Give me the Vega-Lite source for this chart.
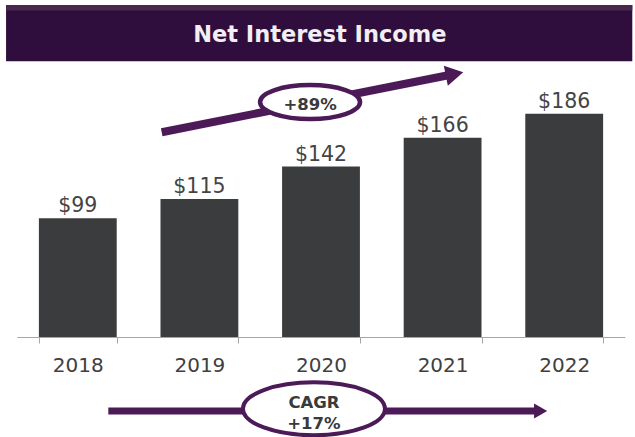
{
  "$schema": "https://vega.github.io/schema/vega-lite/v6.json",
  "width": 608,
  "height": 337,
  "autosize": {"type": "none"},
  "padding": {"left": 17, "top": 0, "right": 10, "bottom": 100},
  "background": "white",
  "config": {
    "view": {"stroke": null},
    "font": "DejaVu Sans",
    "axis": {"grid": false}
  },
  "datasets": {
    "nii": [
      {"year": "2018", "value": 99},
      {"year": "2019", "value": 115},
      {"year": "2020", "value": 142},
      {"year": "2021", "value": 166},
      {"year": "2022", "value": 186}
    ]
  },
  "resolve": {"scale": {"x": "independent"}},
  "layer": [
    {
      "data": {"values": [{}]},
      "mark": {"type": "rect", "color": "#2f0e3e"},
      "encoding": {
        "x": {"datum": -0.09, "type": "quantitative", "scale": {"domain": [0, 5], "nice": false, "zero": false}, "axis": null},
        "x2": {"datum": 5.06},
        "y": {"datum": 229.75, "type": "quantitative", "scale": {"domain": [0, 280.83], "nice": false, "zero": false}, "axis": null},
        "y2": {"datum": 276.6}
      }
    },
    {
      "data": {"values": [{}]},
      "mark": {"type": "rect", "color": "#48284f"},
      "encoding": {
        "x": {"datum": -0.09, "type": "quantitative", "scale": {"domain": [0, 5], "nice": false, "zero": false}, "axis": null},
        "x2": {"datum": 5.06},
        "y": {"datum": 272.0, "type": "quantitative", "scale": {"domain": [0, 280.83], "nice": false, "zero": false}, "axis": null},
        "y2": {"datum": 276.6}
      }
    },
    {
      "data": {"values": [{"title": "Net Interest Income"}]},
      "mark": {"type": "text", "color": "#f2eef2", "fontSize": 22.5, "fontWeight": "bold", "align": "center", "baseline": "alphabetic"},
      "encoding": {
        "text": {"field": "title"},
        "x": {"datum": 2.49, "type": "quantitative", "scale": {"domain": [0, 5], "nice": false, "zero": false}, "axis": null},
        "y": {"datum": 245.8, "type": "quantitative", "scale": {"domain": [0, 280.83], "nice": false, "zero": false}, "axis": null}
      }
    },
    {
      "data": {"values": [{}]},
      "mark": {"type": "rule", "color": "#4b1a57", "strokeWidth": 8, "strokeCap": "butt"},
      "encoding": {
        "x": {"datum": 1.19, "type": "quantitative", "scale": {"domain": [0, 5], "nice": false, "zero": false}, "axis": null},
        "y": {"datum": 170.6, "type": "quantitative", "scale": {"domain": [0, 280.83], "nice": false, "zero": false}, "axis": null},
        "x2": {"datum": 3.598},
        "y2": {"datum": 219.2}
      }
    },
    {
      "data": {"values": [{}]},
      "mark": {"type": "point", "shape": "triangle-right", "filled": true, "opacity": 1, "color": "#4b1a57", "size": 420, "angle": -11.3},
      "encoding": {
        "x": {"datum": 3.598, "type": "quantitative", "scale": {"domain": [0, 5], "nice": false, "zero": false}, "axis": null},
        "y": {"datum": 219.2, "type": "quantitative", "scale": {"domain": [0, 280.83], "nice": false, "zero": false}, "axis": null}
      }
    },
    {
      "data": {"values": [{}]},
      "mark": {"type": "point", "shape": "M-1,0A1,0.34,0,1,1,1,0A1,0.34,0,1,1,-1,0Z", "filled": false, "fill": "white", "fillOpacity": 1, "opacity": 1, "stroke": "#4b1a57", "strokeWidth": 4.5, "size": 10000},
      "encoding": {
        "x": {"datum": 2.41, "type": "quantitative", "scale": {"domain": [0, 5], "nice": false, "zero": false}, "axis": null},
        "y": {"datum": 195.8, "type": "quantitative", "scale": {"domain": [0, 280.83], "nice": false, "zero": false}, "axis": null}
      }
    },
    {
      "data": {"values": [{"label": "+89%"}]},
      "mark": {"type": "text", "color": "#3a3a3a", "fontSize": 16.5, "fontWeight": "bold", "align": "center", "baseline": "alphabetic"},
      "encoding": {
        "text": {"field": "label"},
        "x": {"datum": 2.41, "type": "quantitative", "scale": {"domain": [0, 5], "nice": false, "zero": false}, "axis": null},
        "y": {"datum": 188.9, "type": "quantitative", "scale": {"domain": [0, 280.83], "nice": false, "zero": false}, "axis": null}
      }
    },
    {
      "data": {"values": [{}]},
      "mark": {"type": "rule", "color": "#4b1a57", "strokeWidth": 7, "strokeCap": "butt"},
      "encoding": {
        "x": {"datum": 0.751, "type": "quantitative", "scale": {"domain": [0, 5], "nice": false, "zero": false}, "axis": null},
        "y": {"datum": -61.7, "type": "quantitative", "scale": {"domain": [0, 280.83], "nice": false, "zero": false}, "axis": null},
        "x2": {"datum": 4.306},
        "y2": {"datum": -61.7}
      }
    },
    {
      "data": {"values": [{}]},
      "mark": {"type": "point", "shape": "triangle-right", "filled": true, "opacity": 1, "color": "#4b1a57", "size": 230},
      "encoding": {
        "x": {"datum": 4.306, "type": "quantitative", "scale": {"domain": [0, 5], "nice": false, "zero": false}, "axis": null},
        "y": {"datum": -61.7, "type": "quantitative", "scale": {"domain": [0, 280.83], "nice": false, "zero": false}, "axis": null}
      }
    },
    {
      "data": {"values": [{}]},
      "mark": {"type": "point", "shape": "M-1,0A1,0.373,0,1,1,1,0A1,0.373,0,1,1,-1,0Z", "filled": false, "fill": "white", "fillOpacity": 1, "opacity": 1, "stroke": "#4b1a57", "strokeWidth": 4, "size": 20164},
      "encoding": {
        "x": {"datum": 2.442, "type": "quantitative", "scale": {"domain": [0, 5], "nice": false, "zero": false}, "axis": null},
        "y": {"datum": -59.8, "type": "quantitative", "scale": {"domain": [0, 280.83], "nice": false, "zero": false}, "axis": null}
      }
    },
    {
      "data": {"values": [{"label": "CAGR", "v": -58.8}, {"label": "+17%", "v": -76.3}]},
      "mark": {"type": "text", "color": "#3a3a3a", "fontSize": 16.5, "fontWeight": "bold", "align": "center", "baseline": "alphabetic"},
      "encoding": {
        "text": {"field": "label"},
        "x": {"datum": 2.442, "type": "quantitative", "scale": {"domain": [0, 5], "nice": false, "zero": false}, "axis": null},
        "y": {"field": "v", "type": "quantitative", "scale": {"domain": [0, 280.83], "nice": false, "zero": false}, "axis": null}
      }
    },
    {
      "data": {"name": "nii"},
      "encoding": {
        "x": {
          "field": "year", "type": "nominal",
          "scale": {"paddingInner": 0.36, "paddingOuter": 0.18},
          "axis": {
            "title": null, "labelAngle": 0, "labelFontSize": 20, "labelColor": "#404040",
            "labelPadding": 12, "tickBand": "extent", "tickSize": 6, "tickColor": "#a6a6a6",
            "domainColor": "#a6a6a6", "domainWidth": 1.2
          }
        },
        "y": {"field": "value", "type": "quantitative", "scale": {"domain": [0, 280.83], "nice": false, "zero": false}, "axis": null}
      },
      "layer": [
        {"mark": {"type": "bar", "color": "#3b3c3e"}},
        {
          "mark": {"type": "text", "color": "#444444", "fontSize": 20.5, "align": "center", "baseline": "alphabetic", "dy": -6},
          "encoding": {"text": {"field": "value", "type": "quantitative", "format": "$.0f"}}
        }
      ]
    }
  ]
}
